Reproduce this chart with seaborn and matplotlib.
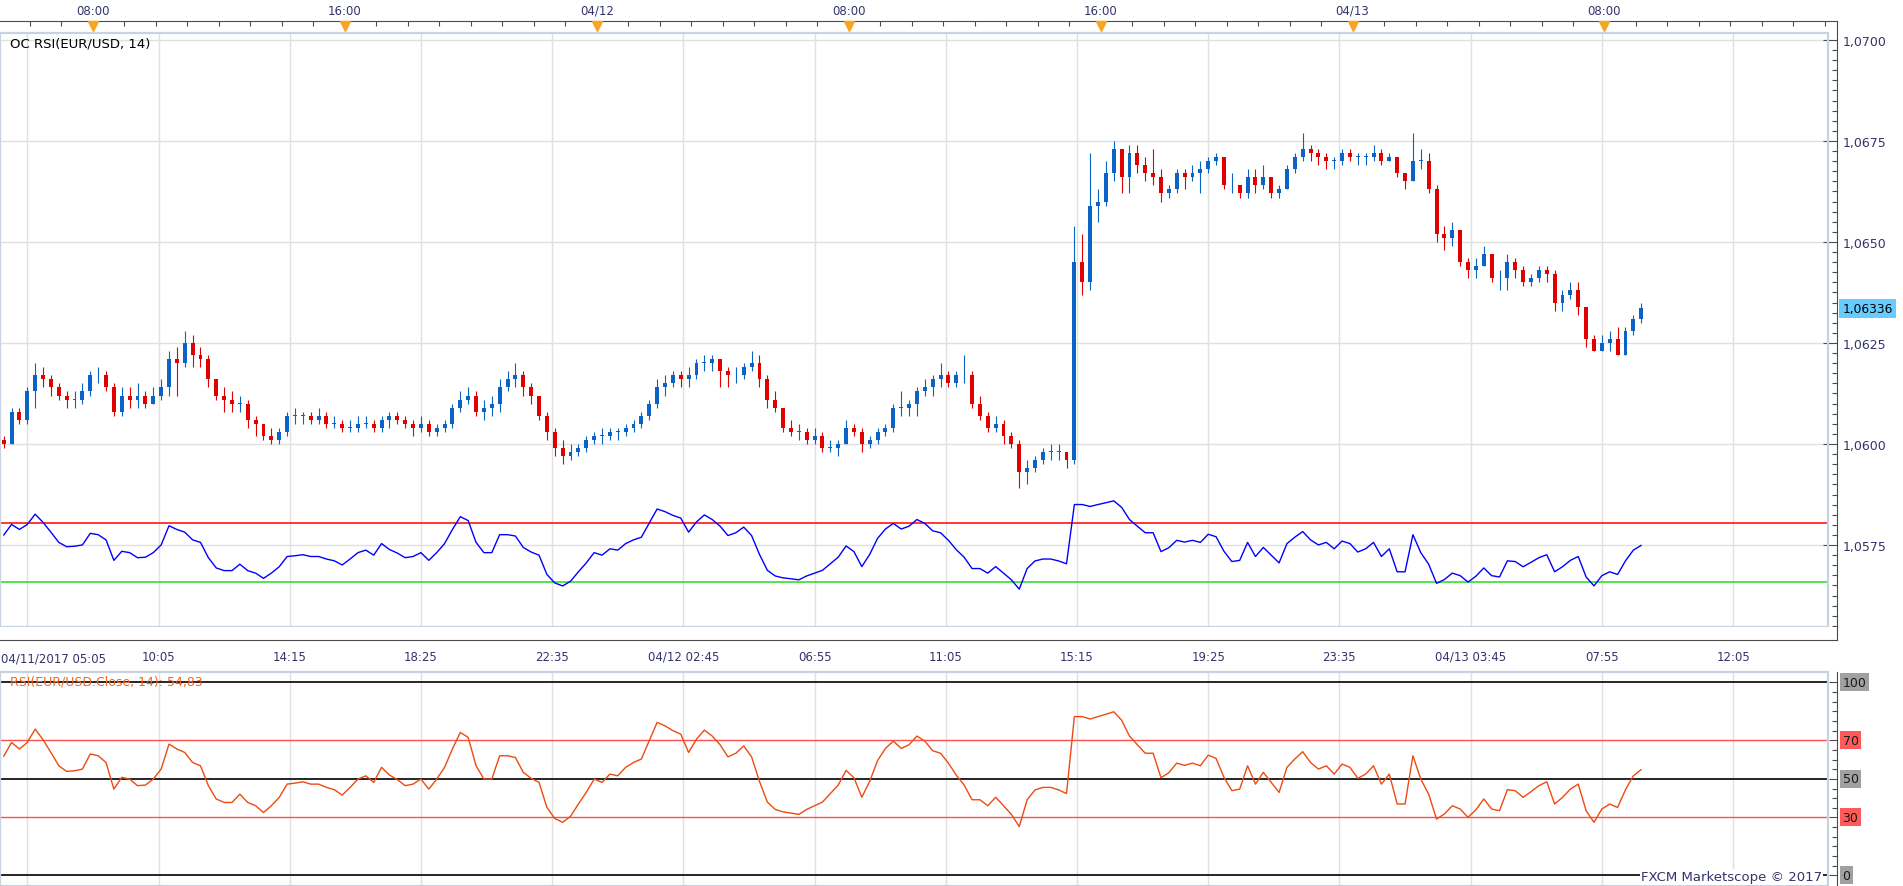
import numpy as np
import pandas as pd
import matplotlib
matplotlib.use("Agg")
import matplotlib.pyplot as plt
from matplotlib.patches import Rectangle
from matplotlib.ticker import FixedLocator, NullFormatter
import seaborn as sns

sns.set_style("white")
plt.rcParams["font.family"] = ["DejaVu Sans"]

first_open = 1.0601
closes = [
    1.0600, 1.0608, 1.0606, 1.0613, 1.0617, 1.0616, 1.0614, 1.0612, 1.0611, 1.0611,
    1.0613, 1.0617, 1.0617, 1.0614, 1.0608, 1.0612, 1.0611, 1.0612, 1.0610, 1.0612,
    1.0614, 1.0621, 1.0620, 1.0625, 1.0622, 1.0621, 1.0616, 1.0612, 1.0611, 1.0610,
    1.0610, 1.0606, 1.0605, 1.0602, 1.0601, 1.0603, 1.0607, 1.0607, 1.0607, 1.0606,
    1.0607, 1.0605, 1.0605, 1.0604, 1.0604, 1.0605, 1.0605, 1.0604, 1.0606, 1.0607,
    1.0606, 1.0605, 1.0604, 1.0605, 1.0603, 1.0604, 1.0605, 1.0609, 1.0611, 1.0612,
    1.0608, 1.0609, 1.0610, 1.0614, 1.0616, 1.0617, 1.0614, 1.0612, 1.0607, 1.0603,
    1.0599, 1.0597, 1.0598, 1.0599, 1.0601, 1.0602, 1.0602, 1.0603, 1.0603, 1.0604,
    1.0605, 1.0607, 1.0610, 1.0614, 1.0615, 1.0617, 1.0616, 1.0617, 1.0620, 1.0620,
    1.0621, 1.0618, 1.0617, 1.0617, 1.0619, 1.0620, 1.0616, 1.0611, 1.0609, 1.0604,
    1.0603, 1.0603, 1.0601, 1.0602, 1.0599, 1.0599, 1.0600, 1.0604, 1.0603, 1.0600,
    1.0601, 1.0603, 1.0604, 1.0609, 1.0609, 1.0610, 1.0613, 1.0614, 1.0616, 1.0617,
    1.0615, 1.0617, 1.0617, 1.0610, 1.0607, 1.0604, 1.0605, 1.0602, 1.0600, 1.0593,
    1.0594, 1.0596, 1.0598, 1.0598, 1.0598, 1.0596, 1.0645, 1.0640, 1.0659, 1.0660,
    1.0667, 1.0673, 1.0666, 1.0672, 1.0669, 1.0667, 1.0666, 1.0662, 1.0663, 1.0667,
    1.0666, 1.0667, 1.0668, 1.0670, 1.0671, 1.0664, 1.0664, 1.0662, 1.0666, 1.0664,
    1.0666, 1.0662, 1.0663, 1.0668, 1.0671, 1.0673, 1.0672, 1.0671, 1.0670, 1.0670,
    1.0672, 1.0671, 1.0671, 1.0671, 1.0672, 1.0670, 1.0671, 1.0667, 1.0665, 1.0670,
    1.0670, 1.0663, 1.0652, 1.0651, 1.0653, 1.0645, 1.0643, 1.0644, 1.0647, 1.0641,
    1.0641, 1.0645, 1.0643, 1.0640, 1.0641, 1.0643, 1.0642, 1.0635, 1.0637, 1.0638,
    1.0634, 1.0626, 1.0623, 1.0625, 1.0626, 1.0622, 1.0628, 1.0631, 1.06336,
]
highs = [
    1.0602, 1.0609, 1.0609, 1.0614, 1.0620, 1.0619, 1.0617, 1.0615, 1.0613, 1.0613,
    1.0615, 1.0618, 1.0619, 1.0618, 1.0615, 1.0614, 1.0614, 1.0615, 1.0613, 1.0614,
    1.0616, 1.0623, 1.0624, 1.0628, 1.0627, 1.0624, 1.0622, 1.0616, 1.0614, 1.0613,
    1.0612, 1.0611, 1.0607, 1.0605, 1.0604, 1.0604, 1.0608, 1.0609, 1.0608, 1.0608,
    1.0609, 1.0608, 1.0607, 1.0606, 1.0606, 1.0607, 1.0607, 1.0606, 1.0607, 1.0608,
    1.0608, 1.0607, 1.0606, 1.0607, 1.0606, 1.0605, 1.0606, 1.0610, 1.0613, 1.0614,
    1.0613, 1.0611, 1.0612, 1.0616, 1.0618, 1.0620, 1.0618, 1.0615, 1.0612, 1.0608,
    1.0604, 1.0601, 1.0600, 1.0600, 1.0602, 1.0603, 1.0604, 1.0604, 1.0604, 1.0605,
    1.0606, 1.0608, 1.0611, 1.0616, 1.0617, 1.0618, 1.0618, 1.0619, 1.0621, 1.0622,
    1.0622, 1.0621, 1.0619, 1.0619, 1.0620, 1.0623, 1.0622, 1.0617, 1.0613, 1.0609,
    1.0606, 1.0605, 1.0604, 1.0604, 1.0603, 1.0601, 1.0601, 1.0606, 1.0605, 1.0604,
    1.0602, 1.0604, 1.0605, 1.0610, 1.0613, 1.0611, 1.0614, 1.0616, 1.0617, 1.0620,
    1.0618, 1.0618, 1.0622, 1.0618, 1.0612, 1.0608, 1.0607, 1.0606, 1.0603, 1.0601,
    1.0596, 1.0597, 1.0599, 1.0600, 1.0600, 1.0598, 1.0654, 1.0652, 1.0672, 1.0663,
    1.0670, 1.0675, 1.0673, 1.0674, 1.0674, 1.0671, 1.0673, 1.0668, 1.0664, 1.0668,
    1.0668, 1.0669, 1.0670, 1.0671, 1.0672, 1.0671, 1.0667, 1.0664, 1.0668, 1.0668,
    1.0669, 1.0666, 1.0664, 1.0669, 1.0672, 1.0677, 1.0674, 1.0673, 1.0672, 1.0671,
    1.0673, 1.0673, 1.0672, 1.0672, 1.0674, 1.0673, 1.0672, 1.0671, 1.0667, 1.0677,
    1.0673, 1.0672, 1.0664, 1.0654, 1.0655, 1.0653, 1.0646, 1.0646, 1.0649, 1.0647,
    1.0643, 1.0647, 1.0646, 1.0644, 1.0642, 1.0644, 1.0644, 1.0643, 1.0638, 1.0640,
    1.0640, 1.0634, 1.0627, 1.0627, 1.0628, 1.0629, 1.0629, 1.0632, 1.0635,
]
lows = [
    1.0599, 1.0600, 1.0605, 1.0605, 1.0609, 1.0614, 1.0612, 1.0611, 1.0609, 1.0609,
    1.0610, 1.0612, 1.0615, 1.0613, 1.0607, 1.0607, 1.0609, 1.0609, 1.0609, 1.0610,
    1.0611, 1.0612, 1.0612, 1.0619, 1.0619, 1.0619, 1.0614, 1.0611, 1.0608, 1.0608,
    1.0608, 1.0604, 1.0602, 1.0601, 1.0600, 1.0600, 1.0602, 1.0605, 1.0605, 1.0605,
    1.0605, 1.0604, 1.0604, 1.0603, 1.0603, 1.0603, 1.0604, 1.0603, 1.0603, 1.0604,
    1.0605, 1.0604, 1.0602, 1.0603, 1.0602, 1.0602, 1.0603, 1.0604, 1.0608, 1.0610,
    1.0607, 1.0606, 1.0607, 1.0608, 1.0613, 1.0614, 1.0612, 1.0610, 1.0606, 1.0601,
    1.0597, 1.0595, 1.0596, 1.0597, 1.0598, 1.0600, 1.0600, 1.0601, 1.0601, 1.0602,
    1.0603, 1.0604, 1.0606, 1.0609, 1.0612, 1.0614, 1.0614, 1.0614, 1.0616, 1.0618,
    1.0618, 1.0614, 1.0614, 1.0615, 1.0616, 1.0618, 1.0614, 1.0609, 1.0608, 1.0603,
    1.0602, 1.0601, 1.0600, 1.0600, 1.0598, 1.0598, 1.0597, 1.0600, 1.0602, 1.0598,
    1.0599, 1.0600, 1.0602, 1.0603, 1.0607, 1.0607, 1.0607, 1.0612, 1.0612, 1.0614,
    1.0614, 1.0614, 1.0615, 1.0609, 1.0606, 1.0603, 1.0603, 1.0600, 1.0599, 1.0589,
    1.0590, 1.0593, 1.0595, 1.0596, 1.0596, 1.0594, 1.0595, 1.0637, 1.0638, 1.0655,
    1.0659, 1.0665, 1.0662, 1.0662, 1.0667, 1.0665, 1.0664, 1.0660, 1.0661, 1.0662,
    1.0663, 1.0665, 1.0662, 1.0667, 1.0669, 1.0663, 1.0662, 1.0661, 1.0661, 1.0662,
    1.0663, 1.0661, 1.0661, 1.0663, 1.0667, 1.0670, 1.0670, 1.0669, 1.0668, 1.0668,
    1.0669, 1.0670, 1.0669, 1.0669, 1.0670, 1.0669, 1.0670, 1.0666, 1.0663, 1.0665,
    1.0668, 1.0662, 1.0650, 1.0648, 1.0649, 1.0644, 1.0641, 1.0641, 1.0644, 1.0640,
    1.0638, 1.0638, 1.0641, 1.0639, 1.0639, 1.0640, 1.0640, 1.0633, 1.0633, 1.0636,
    1.0632, 1.0624, 1.0623, 1.0623, 1.0623, 1.0622, 1.0622, 1.0627, 1.0630,
]
# RSI(14) of the close, one value per bar
rsi = [
    61.7, 68.9, 65.5, 68.9, 75.8, 70.3, 63.7, 56.8, 53.9, 54.2,
    55.1, 62.9, 62.0, 58.5, 44.7, 50.8, 49.9, 46.5, 46.8, 49.9,
    55.1, 68.0, 65.5, 63.7, 58.5, 56.8, 46.5, 39.6, 37.8, 37.8,
    42.1, 37.8, 36.1, 32.6, 36.1, 40.4, 47.3, 47.8, 48.5, 47.3,
    47.3, 45.6, 44.4, 41.6, 45.6, 49.9, 51.6, 48.2, 56.0, 52.0,
    49.6, 46.5, 47.3, 49.9, 44.7, 49.9, 56.0, 65.5, 74.1, 71.5,
    56.8, 49.9, 49.9, 62.0, 62.0, 61.1, 53.4, 50.3, 48.2, 35.2,
    29.5, 27.5, 30.6, 37.0, 43.0, 49.9, 48.2, 52.5, 51.6, 56.0,
    58.5, 60.3, 69.8, 79.3, 77.5, 75.0, 73.2, 63.7, 70.6, 75.3,
    72.2, 67.7, 61.4, 63.3, 67.1, 61.4, 48.7, 38.0, 34.2, 32.9,
    32.3, 31.6, 34.2, 36.1, 38.0, 42.4, 46.8, 54.4, 50.6, 40.5,
    48.7, 59.5, 65.8, 69.6, 65.8, 67.7, 72.2, 69.6, 64.6, 63.3,
    58.2, 51.9, 46.8, 39.2, 39.2, 36.1, 40.5, 36.1, 31.6, 25.3,
    39.2, 44.3, 45.6, 45.6, 44.3, 42.4, 82.3, 82.3, 81.0, 82.3,
    83.5, 84.8, 80.4, 72.2, 67.7, 63.3, 63.3, 50.6, 53.2, 58.2,
    57.0, 58.2, 56.8, 62.3, 60.6, 50.8, 43.9, 44.7, 56.8, 47.3,
    53.4, 48.2, 43.0, 56.0, 60.3, 64.1, 58.5, 55.1, 56.8, 52.5,
    57.7, 56.0, 50.3, 52.5, 56.8, 47.3, 52.5, 37.0, 37.0, 62.0,
    49.9, 42.1, 29.2, 31.8, 36.1, 34.4, 30.1, 34.0, 39.6, 34.4,
    33.5, 44.4, 43.9, 40.4, 43.4, 46.5, 48.5, 37.0, 40.4, 44.7,
    47.3, 33.5, 27.5, 34.4, 37.0, 35.2, 44.4, 51.6, 54.83,
]
rsi_text = "54,83"
last_price = 1.06336

# overlay of the RSI on the price scale: level 30 -> green line, level 70 -> red line
overlay_30 = 1.05658
overlay_70 = 1.05805

price_ticks = [1.0575, 1.0600, 1.0625, 1.0650, 1.0675, 1.0700]
rsi_levels = [0, 30, 50, 70, 100]
bottom_labels = ["", "10:05", "14:15", "18:25", "22:35", "04/12 02:45", "06:55",
                 "11:05", "15:15", "19:25", "23:35", "04/13 03:45", "07:55", "12:05"]
top_labels = ["08:00", "16:00", "04/12", "08:00", "16:00", "04/13", "08:00"]

start = pd.Timestamp("2017-04-11 05:05")


def minutes(ts):
    return np.asarray((pd.DatetimeIndex(ts) - start) / pd.Timedelta(minutes=1), dtype=float)


bar_times = pd.date_range(start, periods=len(closes), freq="15min")
x = minutes(bar_times) + 5
grid_x = minutes(pd.date_range("2017-04-11 05:55", periods=len(bottom_labels), freq="250min"))
top_x = minutes(pd.date_range("2017-04-11 08:00", periods=len(top_labels), freq="8h"))
top_minor = minutes(pd.date_range("2017-04-11 06:00", "2017-04-13 15:00", freq="1h"))
bot_minor = np.arange(grid_x[0] - 31.25, 3500, 31.25)
XLIM = (-2, 3498)

opens = np.array([first_open] + closes[:-1])
closes_a = np.array(closes)
up = closes_a >= opens
candle_colors = np.where(up, "#0b63c5", "#e00000")
rsi_a = np.array(rsi)
rsi_on_price = overlay_30 + (rsi_a - 30) * (overlay_70 - overlay_30) / 40

W, H = 1903, 887
fig = plt.figure(figsize=(W / 100, H / 100), dpi=100)
fig.patch.set_facecolor("white")


def box(x0, y0, x1, y1):
    return [x0 / W, 1 - y1 / H, (x1 - x0) / W, (y1 - y0) / H]


ax_top = fig.add_axes(box(0, 22, 1837, 34))
ax = fig.add_axes(box(0, 34, 1837, 628))
ax_bot = fig.add_axes(box(0, 628, 1837, 641))
ax_rsi = fig.add_axes(box(0, 673, 1837, 887))

AXIS = "#4a4a4a"
LABEL = "#33336b"
GRID = "#e0e0e0"
FRAME = "#c9d3df"
inner = 1828 / 1837

for a in (ax_top, ax, ax_bot, ax_rsi):
    a.set_xlim(*XLIM)
    for s in a.spines.values():
        s.set_visible(False)
    a.spines["right"].set_visible(True)
    a.spines["right"].set_color(AXIS)
    a.spines["right"].set_linewidth(0.8)

# ---- main price panel
ax.set_ylim(1.055471, 1.070172)
for g in grid_x:
    ax.axvline(g, color=GRID, lw=1, zorder=0)
for p in price_ticks:
    ax.axhline(p, xmax=inner, color=GRID, lw=1, zorder=0)
ax.axhline(overlay_70, xmax=inner, color="#ff0000", lw=1.1, zorder=1)
ax.axhline(overlay_30, xmax=inner, color="#22dd22", lw=1.1, zorder=1)
sns.lineplot(x=x, y=rsi_on_price, ax=ax, color="#0000ff", lw=1.0,
             estimator=None, sort=False, zorder=2)

body = np.abs(closes_a - opens)
body = np.where(body < 0.00002, 0.00002, body)
ax.vlines(x, lows, highs, colors=candle_colors, lw=0.8, zorder=3)
ax.bar(x, body, bottom=np.minimum(opens, closes_a), width=7.5,
       color=candle_colors, linewidth=0, zorder=4)
ax.add_patch(Rectangle((0, 0), inner, 1, transform=ax.transAxes, fill=False,
                       ec=FRAME, lw=1.6, zorder=5, clip_on=False))

ax.yaxis.set_ticks_position("right")
ax.set_yticks(price_ticks, [f"{p:.4f}".replace(".", ",") for p in price_ticks])
ax.yaxis.set_minor_locator(FixedLocator(np.arange(1.0555, 1.07005, 0.00025)))
ax.tick_params(axis="y", which="major", direction="in", length=10, width=0.8,
               color=AXIS, pad=4, labelsize=9, labelcolor=LABEL)
ax.tick_params(axis="y", which="minor", direction="in", length=3.6, width=0.8, color=AXIS)
ax.set_xticks([])
ax.set_xlabel("")
ax.set_ylabel("")
ax.text(1.003, last_price, f"{last_price:.5f}".replace(".", ","),
        transform=ax.get_yaxis_transform(), ha="left", va="center", fontsize=8.8,
        color="black", bbox=dict(boxstyle="square,pad=0.25", fc="#66ccff", ec="none"))

# ---- top time axis
ax_top.set_ylim(0, 1)
ax_top.spines["top"].set_visible(True)
ax_top.spines["top"].set_color(AXIS)
ax_top.xaxis.tick_top()
ax_top.set_xticks(top_x, top_labels)
ax_top.xaxis.set_minor_locator(FixedLocator(top_minor))
ax_top.tick_params(axis="x", which="both", direction="in", length=3.8, width=0.8,
                   color=AXIS, pad=3, labelsize=8.5, labelcolor=LABEL)
ax_top.set_yticks([])
ax_top.plot(top_x, [0.6] * len(top_x), "v", ms=7, color="#f5a623",
            clip_on=False, zorder=5)

# ---- bottom time axis
ax_bot.set_ylim(0, 1)
ax_bot.spines["bottom"].set_visible(True)
ax_bot.spines["bottom"].set_color(AXIS)
ax_bot.set_xticks(grid_x, bottom_labels)
ax_bot.xaxis.set_minor_locator(FixedLocator(bot_minor))
ax_bot.xaxis.set_minor_formatter(NullFormatter())
ax_bot.tick_params(axis="x", which="major", direction="in", length=9.4, width=0.8,
                   color=AXIS, pad=7, labelsize=8.5, labelcolor=LABEL)
ax_bot.tick_params(axis="x", which="minor", direction="in", length=4, width=0.8, color=AXIS)
ax_bot.set_yticks([])
fig.text(1 / W, 1 - 659 / H, "04/11/2017 05:05", ha="left", va="center",
         fontsize=8.5, color=LABEL)

# ---- RSI panel
ax_rsi.set_ylim(-5.5, 105.4)
for g in grid_x:
    ax_rsi.axvline(g, color=GRID, lw=1, zorder=0)
for lvl in rsi_levels:
    c = "#ff5050" if lvl in (30, 70) else "black"
    ax_rsi.axhline(lvl, xmax=inner, color=c, lw=1.0 if lvl in (30, 70) else 1.2, zorder=1)
sns.lineplot(x=x, y=rsi_a, ax=ax_rsi, color="#ee4a10", lw=1.0,
             estimator=None, sort=False, zorder=3)
ax_rsi.add_patch(Rectangle((0, 0), inner, 1, transform=ax_rsi.transAxes, fill=False,
                           ec=FRAME, lw=1.6, zorder=5, clip_on=False))
ax_rsi.set_yticks(rsi_levels)
ax_rsi.yaxis.set_ticks_position("right")
ax_rsi.yaxis.set_minor_locator(FixedLocator(np.arange(0, 101, 5)))
ax_rsi.tick_params(axis="y", which="major", direction="in", length=6, width=0.8,
                   color=AXIS, labelright=False, labelleft=False)
ax_rsi.tick_params(axis="y", which="minor", direction="in", length=3.6, width=0.8, color=AXIS)
ax_rsi.set_xticks([])
ax_rsi.set_xlabel("")
ax_rsi.set_ylabel("")
for lvl in rsi_levels:
    fc = "#ff5a5a" if lvl in (30, 70) else "#a0a0a0"
    ax_rsi.text(1.003, lvl, str(lvl), transform=ax_rsi.get_yaxis_transform(),
                ha="left", va="center", fontsize=9, color="#1a1a1a",
                bbox=dict(boxstyle="square,pad=0.2", fc=fc, ec="none"))

fig.text(10 / W, 1 - 44 / H, "OC RSI(EUR/USD, 14)", ha="left", va="center",
         fontsize=9.5, color="black")
fig.text(10 / W, 1 - 682 / H, f"RSI(EUR/USD.Close, 14): {rsi_text}", ha="left",
         va="center", fontsize=9, color="#f26522")
fig.text(1822 / W, 1 - 878 / H, "FXCM Marketscope © 2017", ha="right", va="center",
         fontsize=9.5, color=LABEL,
         bbox=dict(boxstyle="square,pad=0.1", fc="white", ec="none"))

fig.savefig("out.png", dpi=100)
